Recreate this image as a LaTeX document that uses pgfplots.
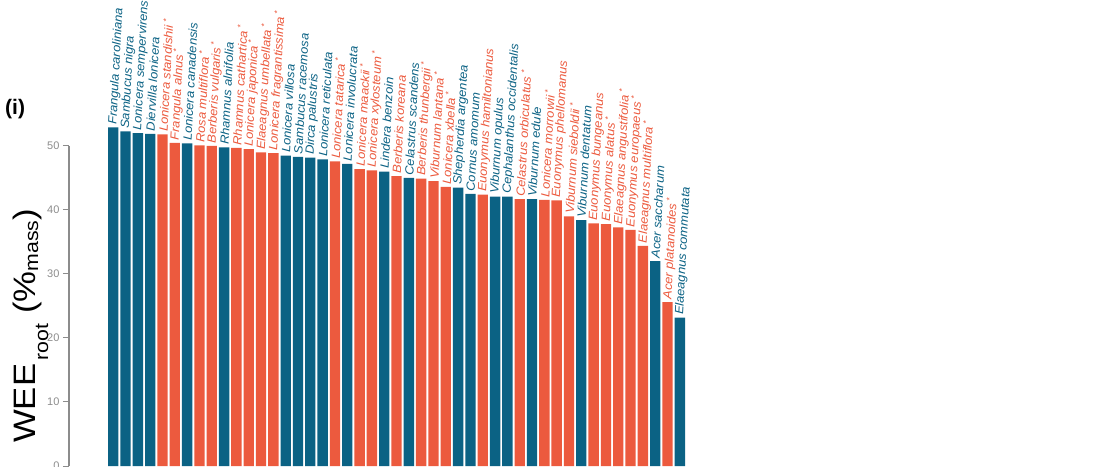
\documentclass[border=0pt]{standalone}
\usepackage{fontspec}
\setmainfont{Liberation Sans}
\usepackage{pgfplots}
\usepackage{pgfplotstable}
\pgfplotsset{compat=1.18}

\definecolor{natblue}{RGB}{11,98,132}
\definecolor{invorange}{RGB}{236,90,62}
\definecolor{axgray}{RGB}{140,140,140}

% marker for invasive species
\newcommand{\inv}{\hspace{0.2em}\textsuperscript{*}}

% native species (blue)
\pgfplotstableread[col sep=comma]{
x,y,name
0,52.9,Frangula caroliniana
1,52.3,Sambucus nigra
2,52.0,Lonicera sempervirens
3,51.9,Diervilla lonicera
6,50.4,Lonicera canadensis
9,49.8,Rhamnus alnifolia
14,48.5,Lonicera villosa
15,48.3,Sambucus racemosa
16,48.2,Dirca palustris
17,47.9,Lonicera reticulata
19,47.2,Lonicera involucrata
22,46.0,Lindera benzoin
24,45.0,Celastrus scandens
28,43.5,Shepherdia argentea
29,42.5,Cornus amomum
31,42.1,Viburnum opulus
32,42.1,Cephalanthus occidentalis
34,41.7,Viburnum edule
38,38.4,Viburnum dentatum
44,32.0,Acer saccharum
46,23.2,Elaeagnus commutata
}\nativetab

% non-native species (orange)
\pgfplotstableread[col sep=comma]{
x,y,name
4,51.8,Lonicera standishii\inv
5,50.5,Frangula alnus\inv
7,50.1,Rosa multiflora\inv
8,50.0,Berberis vulgaris\inv
10,49.7,Rhamnus cathartica\inv
11,49.5,Lonicera japonica\inv
12,49.0,Elaeagnus umbellata\inv
13,48.9,Lonicera fragrantissima\inv
18,47.6,Lonicera tatarica\inv
20,46.4,Lonicera maackii\inv
21,46.2,Lonicera xylosteum\inv
23,45.3,Berberis koreana
25,44.9,Berberis thunbergii\inv
26,44.5,Viburnum lantana\inv
27,43.6,Lonicera xbella\inv
30,42.4,Euonymus hamiltonianus
33,41.7,Celastrus orbiculatus\inv
35,41.6,Lonicera morrowii\inv
36,41.5,Euonymus phellomanus
37,39.0,Viburnum sieboldii\inv
39,37.9,Euonymus bungeanus
40,37.8,Euonymus alatus\inv
41,37.3,Elaeagnus angustifolia\inv
42,36.9,Euonymus europaeus\inv
43,34.4,Elaeagnus multiflora\inv
45,25.6,Acer platanoides\inv
}\invtab

\begin{document}
\begin{tikzpicture}[x=1pt,y=1pt]
\begin{axis}[
  at={(69pt,0pt)}, anchor=south west,
  scale only axis, width=617pt, height=320pt,
  xmin=-3.59, xmax=46.5, ymin=0, ymax=50,
  axis y line=left, axis x line=none,
  axis line style={-, draw=axgray, line width=1.2pt},
  ytick={0,10,...,50}, xtick=\empty,
  tick align=outside, major tick length=6pt,
  tick style={draw=axgray, line width=1pt},
  yticklabel style={text=axgray, font=\fontsize{11}{11}\selectfont},
  /pgf/number format/assume math mode=true,
  ybar, bar width=0.84, bar shift=0pt,
  clip=false,
  point meta=explicit symbolic,
  nodes near coords,
  nodes near coords style={rotate=87, xscale=1.07, anchor=west, inner sep=2.5pt,
    font=\itshape\fontsize{12}{12}\selectfont},
]
\addplot[fill=natblue, draw=none, nodes near coords style={text=natblue}]
  table[x=x, y=y, meta=name] {\nativetab};
\addplot[fill=invorange, draw=none, nodes near coords style={text=invorange}]
  table[x=x, y=y, meta=name] {\invtab};
\end{axis}

% axis title
\node[rotate=90, xscale=1.12, anchor=base west, inner sep=0pt] at (35pt,23pt)
  {\fontsize{31}{31}\selectfont WEE\raisebox{-13pt}{\fontsize{19}{19}\selectfont\,root}\ (\%\raisebox{-3pt}{\fontsize{19}{19}\selectfont mass})};

% panel tag
\node[anchor=base west, inner sep=0pt] at (5pt,351pt)
  {\fontsize{21}{21}\selectfont\bfseries (i)};

\pgfresetboundingbox
\path[use as bounding box] (0pt,0pt) rectangle (1095pt,466pt);
\end{tikzpicture}
\end{document}
